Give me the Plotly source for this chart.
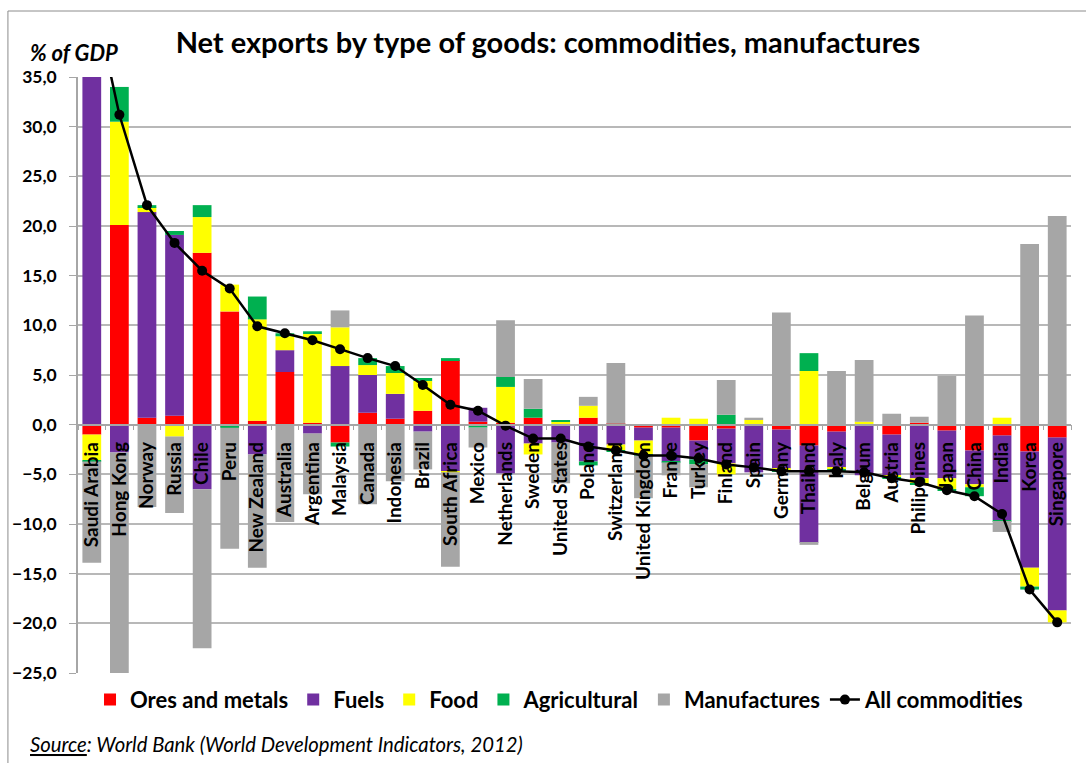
import plotly.graph_objects as go

# Net exports by type of goods, % of GDP
countries = ["Saudi Arabia", "Hong Kong", "Norway", "Russia", "Chile", "Peru",
             "New Zealand", "Australia", "Argentina", "Malaysia", "Canada",
             "Indonesia", "Brazil", "South Africa", "Mexico", "Netherlands",
             "Sweden", "United States", "Poland", "Switzerland", "United Kingdom",
             "France", "Turkey", "Finland", "Spain", "Germany", "Thailand", "Italy",
             "Belgium", "Austria", "Philippines", "Japan", "China", "India",
             "Korea", "Singapore"]

ores = [-1.0, 20.1, 0.7, 0.9, 17.3, 11.4, 0.4, 5.3, 0.2, -1.8, 1.2, 0.6, 1.4, 6.5,
        0.3, 0.2, 0.7, 0.0, 0.7, 0.1, -0.3, -0.3, -1.6, -0.4, 0.0, -0.5, -2.1, -0.7,
        0.0, -1.0, 0.2, -0.6, -2.6, -1.1, -2.7, -1.3]
fuels = [47.7, -2.8, 20.7, 18.2, -6.5, -0.2, -3.0, 2.2, -0.9, 5.9, 3.8, 2.5, -0.7,
         -4.7, 1.4, -4.9, -1.9, -1.8, -3.7, -2.0, -1.3, -3.4, -1.9, -3.5, -4.8, -3.9,
         -9.8, -3.6, -5.1, -4.1, -5.4, -4.8, -3.4, -8.5, -11.7, -17.4]
food = [-2.6, 10.4, 0.5, -1.2, 3.6, 2.7, 10.2, 1.4, 9.0, 3.9, 1.0, 2.1, 3.0, -0.1,
        0.0, 3.6, -1.1, 0.3, 1.2, -0.6, -1.4, 0.7, 0.6, -1.1, 0.5, -0.2, 5.4, -0.2,
        0.3, -0.2, -0.5, -1.1, -0.3, 0.7, -1.9, -1.2]
agricultural = [-0.1, 3.5, 0.2, 0.4, 1.2, -0.1, 2.3, 0.3, 0.2, -0.4, 0.7, 0.7, 0.3,
                0.2, -0.3, 1.0, 0.9, 0.1, -0.4, -0.1, -0.1, -0.1, -0.5, 1.0, 0.0,
                -0.1, 1.8, -0.2, 0.0, -0.1, -0.1, -0.1, -0.9, -0.1, -0.3, 0.0]
manufactures = [-10.2, -22.4, -8.3, -7.7, -16.0, -12.2, -11.4, -9.8, -6.1, 1.7,
                -8.0, -5.7, -3.8, -9.5, -2.0, 5.7, 3.0, -4.1, 0.9, 6.1, -4.3, -1.3,
                -2.3, 3.5, 0.2, 11.3, -0.2, 5.4, 6.2, 1.1, 0.6, 4.9, 11.0, -1.1,
                18.2, 21.0]
all_commodities = [44.0, 31.2, 22.1, 18.3, 15.5, 13.7, 9.9, 9.2, 8.5, 7.6, 6.7, 5.9,
                   4.0, 2.0, 1.4, -0.1, -1.4, -1.4, -2.2, -2.6, -3.1, -3.1, -3.4,
                   -4.0, -4.3, -4.7, -4.7, -4.7, -4.8, -5.4, -5.8, -6.6, -7.2, -9.0,
                   -16.6, -19.9]

y_ticks = [35, 30, 25, 20, 15, 10, 5, 0, -5, -10, -15, -20, -25]

series = [
    ("Ores and metals", ores, "#FF0000"),
    ("Fuels", fuels, "#7030A0"),
    ("Food", food, "#FFFF00"),
    ("Agricultural", agricultural, "#00B050"),
    ("Manufactures", manufactures, "#A6A6A6"),
]

FONT = "Lato"
fig = go.Figure()
for name, vals, color in series:
    fig.add_trace(go.Bar(x=countries, y=vals, name=name,
                         marker=dict(color=color, line=dict(width=0))))

fig.add_trace(go.Scatter(x=countries, y=all_commodities, name="All commodities",
                         mode="lines+markers",
                         line=dict(color="black", width=2.5),
                         marker=dict(color="black", size=10),
                         cliponaxis=True))

fig.update_layout(
    barmode="relative",
    bargap=0.32,
    width=1086, height=763,
    margin=dict(l=78, r=15, t=77, b=90, autoexpand=False),
    paper_bgcolor="white",
    plot_bgcolor="white",
    separators=", ",
    font=dict(family=FONT, color="black"),
    title=dict(text="<b>Net exports by type of goods: commodities, manufactures</b>",
               x=548 / 1086, xref="container", xanchor="center",
               y=1 - 43 / 763, yref="container", yanchor="middle",
               font=dict(size=29, family=FONT, color="black")),
    legend=dict(orientation="h", x=(90 - 78) / 992, xanchor="left",
                y=-0.045, yanchor="middle",
                font=dict(size=22, family=FONT, color="black", weight="bold"),
                traceorder="normal", bgcolor="rgba(0,0,0,0)"),
    xaxis=dict(type="category", range=[-0.5, 35.5], automargin=False,
               anchor="free", position=25 / 60,
               showline=True, linecolor="#A6A6A6", linewidth=1.5,
               ticks="outside", tickson="boundaries", ticklen=5,
               tickcolor="#A6A6A6", tickangle=-90, ticklabelstandoff=9,
               tickfont=dict(size=19, family=FONT, color="black", weight="bold"),
               showgrid=False),
    yaxis=dict(range=[-25, 35], tickvals=y_ticks, tickformat=".1f",
               automargin=False,
               showline=True, linecolor="#A6A6A6", linewidth=1.5,
               ticks="outside", ticklen=7, tickcolor="#A6A6A6",
               ticklabelstandoff=9,
               showgrid=True, gridcolor="#B8B8B8", gridwidth=1.5,
               zeroline=True, zerolinecolor="#A6A6A6", zerolinewidth=1.5,
               tickfont=dict(size=17.5, family=FONT, color="black", weight="bold")),
    annotations=[
        dict(text="<b><i>% of GDP</i></b>", xref="paper", yref="paper",
             x=(28 - 78) / 992, y=1 + (77 - 52) / 596, xanchor="left",
             yanchor="middle", showarrow=False,
             font=dict(size=22, family=FONT, color="black")),
        dict(text="<i><u>Source</u>: World Bank (World Development Indicators, 2012)</i>",
             xref="paper", yref="paper",
             x=(28 - 78) / 992, y=-(744 - 673) / 596, xanchor="left",
             yanchor="middle", showarrow=False,
             font=dict(size=20.3, family=FONT, color="black")),
    ],
    shapes=[
        dict(type="rect", xref="paper", yref="paper",
             x0=(8 - 78) / 992, x1=1.2, y0=-0.3, y1=1 + (77 - 11) / 596,
             line=dict(color="#8C8C8C", width=1), fillcolor="rgba(0,0,0,0)",
             layer="below"),
    ],
)

fig.write_html("out.html")
